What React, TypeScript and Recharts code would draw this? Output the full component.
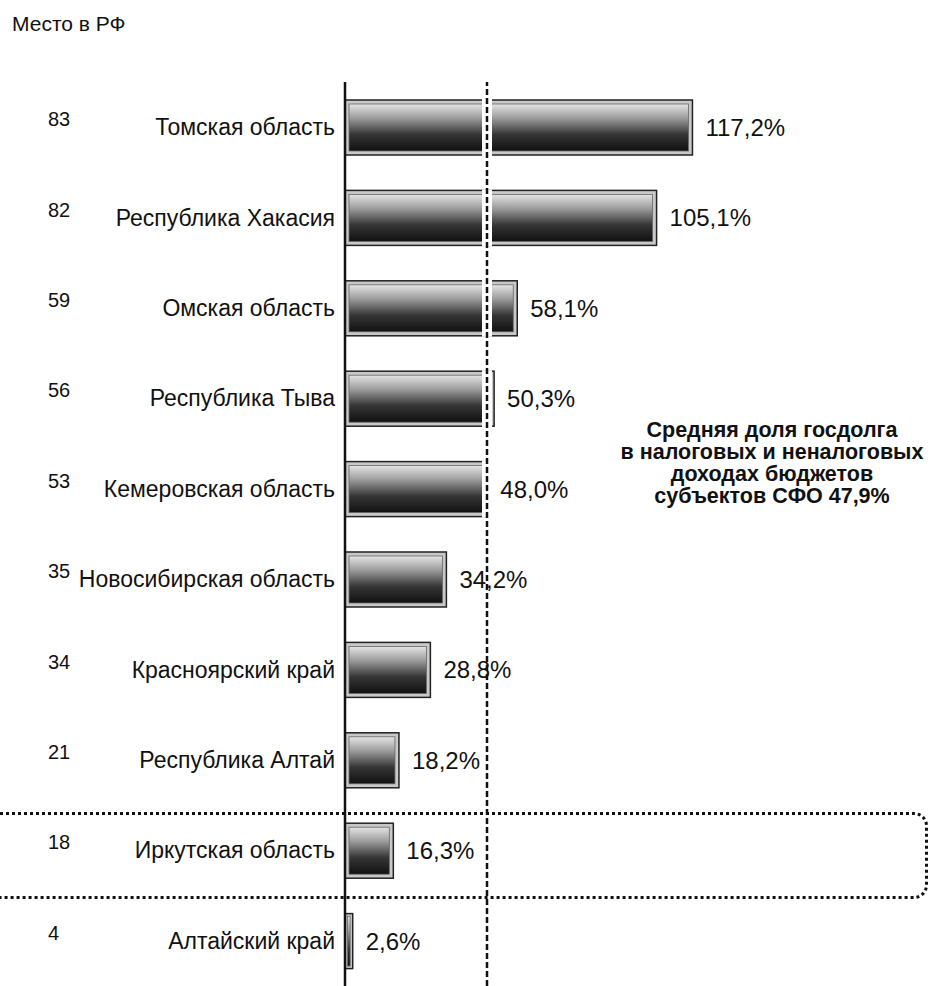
import React from "react";
import { BarChart, Bar, XAxis, YAxis, ReferenceLine, LabelList } from "recharts";

const regions = [
  "Томская область",
  "Республика Хакасия",
  "Омская область",
  "Республика Тыва",
  "Кемеровская область",
  "Новосибирская область",
  "Красноярский край",
  "Республика Алтай",
  "Иркутская область",
  "Алтайский край",
];
const ranks = [83, 82, 59, 56, 53, 35, 34, 21, 18, 4];
const debtShare = [117.2, 105.1, 58.1, 50.3, 48.0, 34.2, 28.8, 18.2, 16.3, 2.6];
const averageShare = 47.9;
const noteLines = [
  "Средняя доля госдолга",
  "в налоговых и неналоговых",
  "доходах бюджетов",
  "субъектов СФО 47,9%",
];

const FONT = '"Liberation Sans", Arial, sans-serif';

const data = regions.map((name, i) => ({ name, rank: ranks[i], value: debtShare[i] }));

const fmt = (v: number) => `${v.toFixed(1).replace(".", ",")}%`;

const RegionTick = (props: any) => {
  const { x, y, payload } = props;
  const rank = ranks[payload.index];
  return (
    <g>
      <text x={48} y={y - 8} dy={7} fontSize={20} fill="#111" fontFamily={FONT}>
        {rank}
      </text>
      <text x={x} y={y} dy={8} textAnchor="end" fontSize={23} fill="#111" fontFamily={FONT}>
        {payload.value}
      </text>
    </g>
  );
};

const BarShape = (props: any) => {
  const { x, y, width, height, payload } = props;
  if (!width || width <= 0) return null;
  const inset = Math.min(4, width / 3);
  const refX = x + (averageShare * width) / payload.value;
  return (
    <g>
      <rect x={x} y={y} width={width} height={height} fill="#c8c8c8" stroke="#222" strokeWidth={1.5} />
      <rect
        x={x + inset}
        y={y + inset}
        width={Math.max(width - inset * 2, 1)}
        height={height - inset * 2}
        fill="url(#barGrad)"
        stroke="#666"
        strokeWidth={0.8}
      />
      {refX > x && refX < x + width && (
        <rect x={refX - 5} y={y - 1} width={10} height={height + 2} fill="#fff" />
      )}
    </g>
  );
};

export default function App() {
  return (
    <div
      style={{
        position: "absolute",
        left: 0,
        top: 0,
        width: 932,
        height: 986,
        background: "#fff",
        fontFamily: FONT,
        overflow: "hidden",
      }}
    >
      <div style={{ position: "absolute", left: 12, top: 12, fontSize: 21, color: "#111" }}>Место в РФ</div>

      <BarChart
        width={932}
        height={986}
        data={data}
        layout="vertical"
        margin={{ top: 82, right: 0, bottom: 0, left: 0 }}
        barCategoryGap={0}
      >
        <defs>
          <linearGradient id="barGrad" x1="0" y1="0" x2="0" y2="1">
            <stop offset="0%" stopColor="#e4e4e4" />
            <stop offset="30%" stopColor="#9c9c9c" />
            <stop offset="65%" stopColor="#353535" />
            <stop offset="100%" stopColor="#111" />
          </linearGradient>
        </defs>
        <XAxis type="number" domain={[0, 198]} hide />
        <YAxis
          type="category"
          dataKey="name"
          width={345}
          axisLine={{ stroke: "#111", strokeWidth: 2.5 }}
          tickLine={false}
          tickSize={0}
          tickMargin={10}
          tick={<RegionTick />}
          interval={0}
        />
        <Bar dataKey="value" barSize={55} shape={<BarShape />} isAnimationActive={false}>
          <LabelList
            dataKey="value"
            position="right"
            offset={13}
            formatter={(v: any) => fmt(Number(v))}
            style={{ fontSize: 24, fill: "#111", fontFamily: FONT }}
          />
        </Bar>
        <ReferenceLine x={averageShare} stroke="#111" strokeWidth={2.5} strokeDasharray="6 3" ifOverflow="extendDomain" />
      </BarChart>

      <div
        style={{
          position: "absolute",
          left: 590,
          top: 419,
          width: 364,
          textAlign: "center",
          fontWeight: "bold",
          fontSize: 21.5,
          lineHeight: "22px",
          color: "#111",
        }}
      >
        {noteLines.map((l) => (
          <div key={l}>{l}</div>
        ))}
      </div>

      <div
        style={{
          position: "absolute",
          left: -14,
          top: 812,
          width: 942,
          height: 87,
          border: "3.5px dotted #111",
          borderRadius: 14,
          boxSizing: "border-box",
        }}
      />
    </div>
  );
}
